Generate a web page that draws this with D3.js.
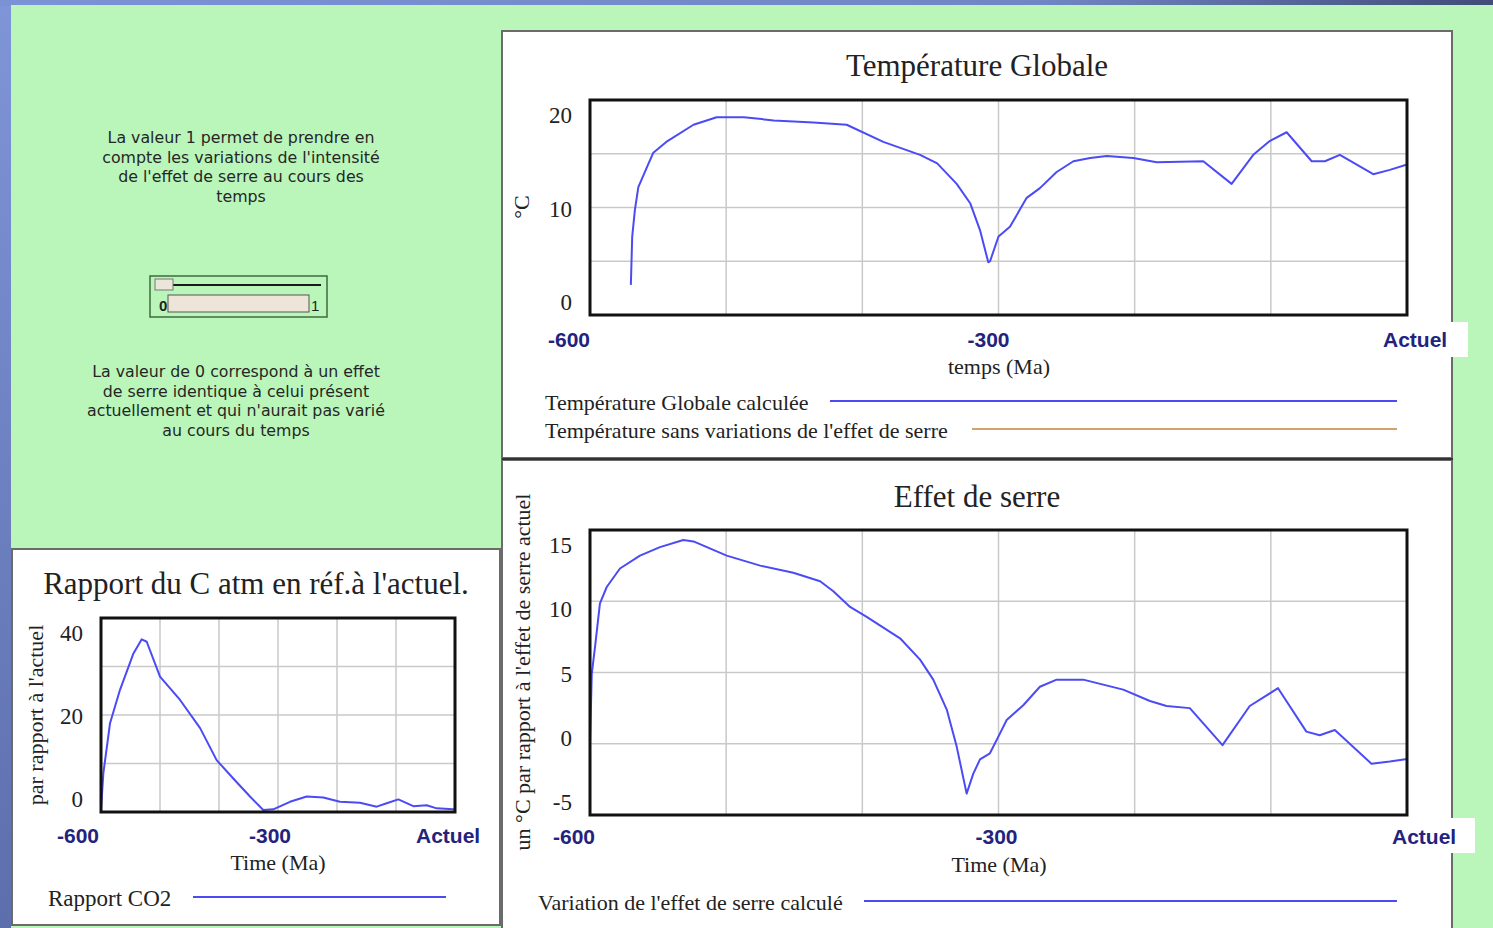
<!DOCTYPE html>
<html>
<head>
<meta charset="utf-8">
<script src="https://cdn.jsdelivr.net/npm/d3@7"></script>
<style>
  html, body { margin: 0; padding: 0; background: #7d93d6; overflow: hidden; }
  svg { display: block; }
</style>
</head>
<body>
<script>
// ---------- DATA ----------
const xTickValues = [-600, -300, 0];
const xTickLabels = ["-600", "-300", "Actuel"];

// Température Globale (°C)
const tempTime   = [-570, -569, -567, -564.5, -558, -553.5, -544, -524, -507, -487, -465, -436, -411.5, -384.6, -357.6, -345, -330.7, -320.8, -313.6, -307.5, -306.2, -300, -291.6, -279.3, -269.6, -257.3, -245, -232.7, -220.5, -201, -183.8, -149.6, -128.8, -112.9, -100.6, -88.4, -70, -60.3, -49.3, -24.8, -12.6, 0];
const tempValues = [2.8, 7.3, 9.8, 11.9, 13.8, 15.1, 16.1, 17.7, 18.4, 18.4, 18.1, 17.9, 17.7, 16.1, 14.9, 14.1, 12.2, 10.4, 7.9, 4.9, 5.0, 7.3, 8.2, 10.9, 11.8, 13.3, 14.3, 14.6, 14.8, 14.6, 14.2, 14.3, 12.2, 14.9, 16.2, 17.0, 14.3, 14.3, 14.9, 13.1, 13.5, 14.0];

// Effet de serre (variation en °C)
const serreTime   = [-600, -598.7, -596.3, -592.7, -587.7, -578, -563.3, -548.6, -531.5, -524, -499.6, -475, -450.7, -431, -421.3, -409, -396.8, -372.3, -357.6, -347.9, -338, -330.7, -323.4, -318.5, -313.6, -306.3, -298.9, -294, -281.8, -269.6, -257.3, -237.8, -208.4, -188.8, -176.6, -159.5, -135.5, -115.5, -94.7, -73.9, -64.1, -53, -26.1, -12.6, 0];
const serreValues = [0, 4.9, 6.8, 9.85, 11.0, 12.3, 13.2, 13.8, 14.3, 14.2, 13.2, 12.5, 12.0, 11.4, 10.7, 9.6, 8.9, 7.4, 5.9, 4.5, 2.4, -0.2, -3.5, -2.1, -1.1, -0.67, 0.73, 1.67, 2.7, 4.0, 4.5, 4.5, 3.8, 3.0, 2.65, 2.5, -0.1, 2.65, 3.9, 0.85, 0.6, 0.96, -1.4, -1.25, -1.07];

// Rapport CO2
const co2Time   = [-600, -596, -584.7, -567.8, -545, -531, -522.5, -500, -466, -432, -404, -375.8, -347.5, -325, -308, -279.7, -251.4, -223.2, -195, -161, -132.7, -115.8, -96, -70.7, -48, -31, -3, 0];
const co2Values = [0.4, 8.0, 18.3, 25.2, 32.7, 35.6, 35.1, 27.9, 23.1, 17.3, 10.7, 6.9, 3.2, 0.4, 0.55, 2.1, 3.2, 3.0, 2.1, 1.9, 1.1, 1.8, 2.6, 1.2, 1.4, 0.75, 0.55, 0.5];

const tempYTicks  = [0, 10, 20];
const serreYTicks = [-5, 0, 5, 10, 15];
const co2YTicks   = [0, 20, 40];

const textTop = ["La valeur 1 permet de prendre en", "compte les variations de l'intensité", "de l'effet de serre au cours des", "temps"];
const textBottom = ["La valeur de 0 correspond à un effet", "de serre identique à celui présent", "actuellement et qui n'aurait pas varié", "au cours du temps"];

// ---------- STYLE ----------
const W = 1493, H = 928;
const BLUE = "#4b4bf5";
const TAN = "#d4a06e";
const NAVY = "#23237e";
const SERIF = "'Liberation Serif', 'Times New Roman', serif";
const SANS = "'Liberation Sans', Arial, sans-serif";
const WIDE = "'DejaVu Sans', Verdana, sans-serif";

const svg = d3.select("body").append("svg").attr("width", W).attr("height", H);
const defs = svg.append("defs");
const bg = defs.append("linearGradient").attr("id", "bgTop").attr("x1", 0).attr("x2", 1).attr("y1", 0).attr("y2", 0);
bg.append("stop").attr("offset", "0%").attr("stop-color", "#7b93d6");
bg.append("stop").attr("offset", "70%").attr("stop-color", "#7086c4");
bg.append("stop").attr("offset", "100%").attr("stop-color", "#414c78");
const bgL = defs.append("linearGradient").attr("id", "bgLeft").attr("x1", 0).attr("x2", 0).attr("y1", 0).attr("y2", 1);
bgL.append("stop").attr("offset", "0%").attr("stop-color", "#7e95d8");
bgL.append("stop").attr("offset", "100%").attr("stop-color", "#5d6eac");

svg.append("rect").attr("width", W).attr("height", H).attr("fill", "url(#bgLeft)");
svg.append("rect").attr("width", W).attr("height", 6).attr("fill", "url(#bgTop)");
svg.append("rect").attr("x", 11).attr("y", 5).attr("width", W - 11).attr("height", H - 5).attr("fill", "#baf6ba");

// ---------- Left text + slider ----------
function para(lines, cx, y0, dy) {
  const t = svg.append("text").attr("font-family", WIDE).attr("font-size", 15.8).attr("fill", "#262626").attr("text-anchor", "middle");
  lines.forEach((l, i) => t.append("tspan").attr("x", cx).attr("y", y0 + i * dy).text(l));
}
para(textTop, 241, 143, 19.5);
para(textBottom, 236, 377, 19.5);

const sl = svg.append("g");
sl.append("rect").attr("x", 150).attr("y", 276).attr("width", 177).attr("height", 41).attr("fill", "none").attr("stroke", "#3f6a3f").attr("stroke-width", 1.5);
sl.append("line").attr("x1", 170).attr("x2", 321).attr("y1", 285).attr("y2", 285).attr("stroke", "#1a1a1a").attr("stroke-width", 2);
sl.append("rect").attr("x", 155).attr("y", 279).attr("width", 18).attr("height", 11).attr("fill", "#ece6da").attr("stroke", "#777").attr("stroke-width", 1);
sl.append("rect").attr("x", 168).attr("y", 295).attr("width", 141).attr("height", 17).attr("fill", "#ede5d8").attr("stroke", "#555").attr("stroke-width", 1);
sl.append("text").attr("x", 159).attr("y", 311).attr("font-family", SANS).attr("font-size", 15).attr("font-weight", "bold").attr("fill", "#222").text("0");
sl.append("text").attr("x", 311).attr("y", 311).attr("font-family", SANS).attr("font-size", 15).attr("fill", "#222").text("1");

// ---------- Chart builder ----------
function chart(cfg) {
  const g = svg.append("g");
  g.append("rect").attr("x", cfg.panel[0]).attr("y", cfg.panel[1]).attr("width", cfg.panel[2]).attr("height", cfg.panel[3])
    .attr("fill", "#ffffff").attr("stroke", "#6b6b6b").attr("stroke-width", 2);
  g.append("text").attr("x", cfg.titleX).attr("y", cfg.titleY).attr("text-anchor", "middle")
    .attr("font-family", SERIF).attr("font-size", 31).attr("fill", "#222").text(cfg.title);

  const [L, T, R, B] = cfg.plot;
  const x = d3.scaleLinear().domain([-600, 0]).range([L, R]);
  const y = d3.scaleLinear().domain(cfg.yDomain).range([B, T]);
  const yLab = d3.scaleLinear().domain(cfg.yDomain).range([B - 13, T + 15]);

  const gx = d3.range(-500, 0, 100);
  g.append("g").selectAll("line").data(gx).join("line")
    .attr("x1", d => x(d)).attr("x2", d => x(d)).attr("y1", T).attr("y2", B)
    .attr("stroke", "#c9c9c9").attr("stroke-width", 1.5);
  const [y0, y1] = cfg.yDomain;
  const gy = [1, 2, 3].map(i => y0 + (y1 - y0) * i / 4);
  g.append("g").selectAll("line").data(gy).join("line")
    .attr("x1", L).attr("x2", R).attr("y1", d => y(d)).attr("y2", d => y(d))
    .attr("stroke", "#c9c9c9").attr("stroke-width", 1.5);

  const data = cfg.time.map((t, i) => [t, cfg.values[i]]);
  g.append("path").datum(data)
    .attr("d", d3.line().x(d => x(d[0])).y(d => y(d[1])))
    .attr("fill", "none").attr("stroke", BLUE).attr("stroke-width", 2).attr("stroke-linejoin", "round");

  g.append("rect").attr("x", L).attr("y", T).attr("width", R - L).attr("height", B - T)
    .attr("fill", "none").attr("stroke", "#111").attr("stroke-width", 3);

  g.append("g").selectAll("text").data(cfg.yTicks).join("text")
    .attr("x", L - 18).attr("y", d => yLab(d)).attr("dy", "0.35em").attr("text-anchor", "end")
    .attr("font-family", SERIF).attr("font-size", 23).attr("fill", "#222").text(d => d);

  if (cfg.actuelBox) {
    const b = cfg.actuelBox;
    g.append("rect").attr("x", b[0]).attr("y", b[1]).attr("width", b[2]).attr("height", b[3]).attr("fill", "#fff");
  }
  const anchors = ["end", "middle", "start"];
  g.append("g").selectAll("text").data(xTickValues).join("text")
    .attr("x", (d, i) => x(d) + cfg.xOff[i])
    .attr("y", cfg.xLabY).attr("dy", "0.35em")
    .attr("text-anchor", (d, i) => anchors[i])
    .attr("font-family", SANS).attr("font-weight", "bold").attr("font-size", 21).attr("fill", NAVY)
    .text((d, i) => xTickLabels[i]);

  g.append("text").attr("x", cfg.xTitle[0]).attr("y", cfg.xTitle[1]).attr("dy", "0.35em").attr("text-anchor", "middle")
    .attr("font-family", SERIF).attr("font-size", 22).attr("fill", "#222").text(cfg.xTitleText);

  g.append("text").attr("transform", `translate(${cfg.yTitle[0]},${cfg.yTitle[1]}) rotate(-90)`)
    .attr("dy", "0.35em").attr("text-anchor", "middle")
    .attr("font-family", SERIF).attr("font-size", cfg.yTitleSize).attr("fill", "#222").text(cfg.yTitleText);

  cfg.legend.forEach(l => {
    g.append("text").attr("x", l.x).attr("y", l.y).attr("dy", "0.35em")
      .attr("font-family", SERIF).attr("font-size", l.size || 22).attr("fill", "#222").text(l.text);
    g.append("line").attr("x1", l.x1).attr("x2", l.x2).attr("y1", l.y - 1).attr("y2", l.y - 1)
      .attr("stroke", l.color).attr("stroke-width", 2);
  });
  return { x, y };
}

// Top chart
chart({
  panel: [502, 31, 950, 427], title: "Température Globale", titleX: 977, titleY: 76,
  plot: [590, 100, 1407, 315], yDomain: [0, 20], yTicks: tempYTicks,
  time: tempTime, values: tempValues,
  xOff: [0, -10, -24], xLabY: 340, actuelBox: [1378, 322, 90, 35],
  xTitle: [999, 366], xTitleText: "temps (Ma)",
  yTitle: [521, 207], yTitleText: "°C", yTitleSize: 22,
  legend: [
    { text: "Température Globale calculée", x: 545, y: 402, x1: 830, x2: 1397, color: BLUE },
    { text: "Température sans variations de l'effet de serre", x: 545, y: 430, x1: 972, x2: 1397, color: TAN }
  ]
});

// Bottom chart
chart({
  panel: [502, 460, 950, 472], title: "Effet de serre", titleX: 977, titleY: 507,
  plot: [590, 530, 1407, 815], yDomain: [-5, 15], yTicks: serreYTicks,
  time: serreTime, values: serreValues,
  xOff: [5, -2, -15], xLabY: 837, actuelBox: [1386, 818, 89, 35],
  xTitle: [999, 864], xTitleText: "Time (Ma)",
  yTitle: [522, 672], yTitleText: "un °C par rapport à l'effet de serre actuel", yTitleSize: 22,
  legend: [
    { text: "Variation de l'effet de serre calculé", x: 538, y: 902, x1: 864, x2: 1397, color: BLUE }
  ]
});
svg.append("line").attr("x1", 502).attr("x2", 1453).attr("y1", 459).attr("y2", 459).attr("stroke", "#333").attr("stroke-width", 2);

// Left chart
chart({
  panel: [12, 549, 488, 376], title: "Rapport du C atm en réf.à l'actuel.", titleX: 256, titleY: 594,
  plot: [101, 618, 455, 812], yDomain: [0, 40], yTicks: co2YTicks,
  time: co2Time, values: co2Values,
  xOff: [-2, -8, -39], xLabY: 836,
  xTitle: [278, 862], xTitleText: "Time (Ma)",
  yTitle: [35, 715], yTitleText: "par rapport à l'actuel", yTitleSize: 22,
  legend: [
    { text: "Rapport CO2", x: 48, y: 898, x1: 193, x2: 446, color: BLUE, size: 23 }
  ]
});
</script>
</body>
</html>
